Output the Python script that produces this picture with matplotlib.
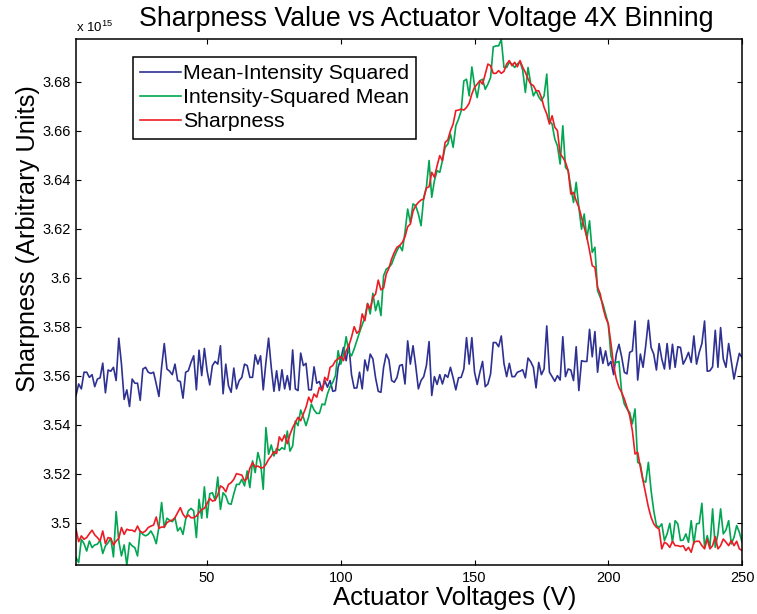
import numpy as np
import matplotlib
matplotlib.use('Agg')
import matplotlib.pyplot as plt

plt.rcParams['font.family'] = ['Liberation Sans', 'DejaVu Sans']
plt.rcParams['mathtext.default'] = 'regular'

# Sharpness readings (x 1e15) for each actuator voltage step, 1..250 V
mean_intensity_sq = [
    3.5519, 3.5566, 3.5546, 3.5614, 3.5614, 3.5593, 3.5604, 3.5555, 3.5586, 3.5591,
    3.5651, 3.5530, 3.5623, 3.5618, 3.5634, 3.5580, 3.5753, 3.5647, 3.5503, 3.5542,
    3.5474, 3.5586, 3.5569, 3.5569, 3.5499, 3.5627, 3.5634, 3.5614, 3.5609, 3.5614,
    3.5566, 3.5515, 3.5634, 3.5731, 3.5627, 3.5618, 3.5604, 3.5647, 3.5580, 3.5576,
    3.5508, 3.5614, 3.5620, 3.5654, 3.5681, 3.5542, 3.5704, 3.5600, 3.5711, 3.5620,
    3.5562, 3.5641, 3.5658, 3.5647, 3.5722, 3.5526, 3.5647, 3.5559, 3.5532, 3.5631,
    3.5546, 3.5580, 3.5593, 3.5647, 3.5641, 3.5593,
    3.5593, 3.5685, 3.5647, 3.5681, 3.5542, 3.5654, 3.5753, 3.5634, 3.5536, 3.5620,
    3.5539, 3.5624, 3.5546, 3.5600, 3.5542, 3.5705, 3.5546, 3.5539, 3.5692, 3.5641,
    3.5650, 3.5542, 3.5542, 3.5636, 3.5569, 3.5576, 3.5539, 3.5580, 3.5553, 3.5580,
    3.5536, 3.5539, 3.5634, 3.5668, 3.5715, 3.5661, 3.5728, 3.5604, 3.5549, 3.5550,
    3.5614, 3.5546, 3.5664, 3.5620, 3.5688, 3.5668, 3.5591, 3.5536, 3.5532, 3.5634,
    3.5688, 3.5664, 3.5580, 3.5573, 3.5593, 3.5641, 3.5645, 3.5566, 3.5742, 3.5647,
    3.5722, 3.5641, 3.5546, 3.5580,
    3.5596, 3.5641, 3.5739, 3.5519, 3.5596, 3.5564, 3.5604, 3.5566, 3.5604, 3.5593,
    3.5634, 3.5591, 3.5542, 3.5591, 3.5593, 3.5627, 3.5755, 3.5647, 3.5755, 3.5614,
    3.5564, 3.5614, 3.5658, 3.5555, 3.5566, 3.5607, 3.5735, 3.5735, 3.5718, 3.5762,
    3.5650, 3.5596, 3.5650, 3.5596, 3.5596, 3.5614, 3.5618, 3.5624, 3.5591, 3.5672,
    3.5657, 3.5634, 3.5550, 3.5654, 3.5604, 3.5627, 3.5803, 3.5614, 3.5596, 3.5577,
    3.5600, 3.5582, 3.5759, 3.5596, 3.5627, 3.5623, 3.5580, 3.5718, 3.5539, 3.5661,
    3.5658, 3.5658, 3.5789,
    3.5677, 3.5780, 3.5614, 3.5715, 3.5650, 3.5701, 3.5641, 3.5658, 3.5604, 3.5688,
    3.5728, 3.5677, 3.5614, 3.5607, 3.5695, 3.5701, 3.5823, 3.5582, 3.5688, 3.5634,
    3.5722, 3.5826, 3.5715, 3.5688, 3.5623, 3.5731, 3.5668, 3.5627, 3.5731, 3.5627,
    3.5728, 3.5634, 3.5718, 3.5715, 3.5647, 3.5668, 3.5695, 3.5654, 3.5762, 3.5647,
    3.5695, 3.5731, 3.5823, 3.5618, 3.5620, 3.5636, 3.5785, 3.5634, 3.5796, 3.5668,
    3.5634, 3.5731, 3.5658, 3.5586, 3.5641, 3.5691, 3.5674,
]

intensity_sq_mean = [
    3.4857, 3.4837, 3.4932, 3.4914, 3.4884, 3.4925, 3.4898, 3.4909, 3.4912, 3.4928,
    3.4874, 3.4905, 3.4918, 3.4936, 3.4860, 3.5045, 3.4925, 3.4864, 3.4909, 3.4827,
    3.4918, 3.4905, 3.4898, 3.4864, 3.4966, 3.4952, 3.4946, 3.4952, 3.4966, 3.4946,
    3.4914, 3.4982, 3.5082, 3.4980, 3.5018, 3.5010, 3.5004, 3.5020, 3.4966, 3.4980,
    3.4952, 3.5014, 3.5048, 3.5058, 3.5048, 3.4939, 3.5095, 3.5018, 3.5146, 3.5020,
    3.5118, 3.5122, 3.5091, 3.5186, 3.5054, 3.5122, 3.5109, 3.5078, 3.5075, 3.5118,
    3.5156, 3.5156, 3.5177, 3.5150, 3.5211, 3.5143, 3.5252, 3.5204, 3.5286, 3.5245,
    3.5136, 3.5388, 3.5279, 3.5317, 3.5272, 3.5303, 3.5295, 3.5306, 3.5299, 3.5374,
    3.5292, 3.5313, 3.5415,
    3.5396, 3.5460, 3.5430, 3.5396, 3.5432, 3.5484, 3.5460, 3.5446, 3.5446, 3.5484,
    3.5481, 3.5525, 3.5555, 3.5573, 3.5600, 3.5702, 3.5647, 3.5688, 3.5759, 3.5695,
    3.5681, 3.5709, 3.5743, 3.5777, 3.5808, 3.5838, 3.5895, 3.5852, 3.5936, 3.5865,
    3.5906, 3.5845, 3.6008, 3.6035, 3.6042, 3.6055, 3.6085, 3.6110,
    3.6131, 3.6110, 3.6185, 3.6280, 3.6225, 3.6301, 3.6294, 3.6260, 3.6212, 3.6328,
    3.6369, 3.6478, 3.6328, 3.6396, 3.6437, 3.6430, 3.6478, 3.6532, 3.6545, 3.6586,
    3.6532, 3.6620, 3.6647, 3.6681, 3.6803, 3.6810, 3.6742, 3.6860, 3.6783, 3.6735,
    3.6804, 3.6810, 3.6769, 3.6790, 3.6817, 3.6942, 3.6946, 3.6946, 3.6973, 3.6858,
    3.6858, 3.6879, 3.6872, 3.6858, 3.6872, 3.6882, 3.6847, 3.6756, 3.6858, 3.6792,
    3.6742, 3.6763, 3.6738, 3.6722, 3.6742, 3.6831, 3.6640,
    3.6627, 3.6566, 3.6538, 3.6464, 3.6620, 3.6450, 3.6437, 3.6369, 3.6307, 3.6389,
    3.6287, 3.6198, 3.6260, 3.6158, 3.6232, 3.6103, 3.6124, 3.5947, 3.5920, 3.5892,
    3.5851, 3.5811,
    3.5681, 3.5647, 3.5654, 3.5658, 3.5532, 3.5484, 3.5464, 3.5450, 3.5403, 3.5464,
    3.5246, 3.5239, 3.5171, 3.5165, 3.5246, 3.5131, 3.5049, 3.4988, 3.4981,
    3.4995, 3.4927, 3.4954, 3.4997, 3.4920, 3.5008, 3.4995, 3.4927, 3.4929, 3.4954,
    3.4920, 3.5008, 3.4913, 3.4995, 3.4997, 3.5079, 3.4899, 3.4947, 3.4899, 3.5056,
    3.4899, 3.4954, 3.5056, 3.4954, 3.4970, 3.5008, 3.4913, 3.4940, 3.4988, 3.4961,
    3.4920,
]

sharpness = [
    3.4973, 3.4922, 3.4946, 3.4932, 3.4939, 3.4955, 3.4969, 3.4950, 3.4939, 3.4925,
    3.4966, 3.4914, 3.4939, 3.4936, 3.4909, 3.4925, 3.4936, 3.4980, 3.4952, 3.4973,
    3.4969, 3.4969, 3.4963, 3.4986, 3.4963, 3.4959, 3.4966, 3.4980, 3.4986, 3.4990,
    3.5023, 3.4977, 3.4982, 3.4982, 3.5000, 3.5007, 3.5010, 3.5020, 3.5041, 3.5061,
    3.5034, 3.5020, 3.5031, 3.5020, 3.5020, 3.5027, 3.5041, 3.5054, 3.5058, 3.5078,
    3.5099, 3.5088, 3.5091, 3.5113, 3.5150, 3.5143, 3.5126, 3.5156, 3.5163, 3.5177,
    3.5200, 3.5197, 3.5194, 3.5170, 3.5181, 3.5222, 3.5245, 3.5227, 3.5231, 3.5224,
    3.5224, 3.5238, 3.5258, 3.5272, 3.5290, 3.5282, 3.5350, 3.5333, 3.5358, 3.5322,
    3.5360, 3.5388, 3.5408,
    3.5430, 3.5416, 3.5444, 3.5471, 3.5512, 3.5491, 3.5525, 3.5512, 3.5552, 3.5539,
    3.5593, 3.5580, 3.5634, 3.5641, 3.5661, 3.5668, 3.5678, 3.5661, 3.5702, 3.5722,
    3.5757, 3.5800, 3.5773, 3.5784, 3.5852, 3.5824, 3.5893, 3.5872, 3.5920, 3.5933,
    3.5990, 3.5950, 3.5958, 3.6015, 3.6039, 3.6076, 3.6103, 3.6124,
    3.6131, 3.6144, 3.6167, 3.6208, 3.6219, 3.6271, 3.6294, 3.6307, 3.6317, 3.6321,
    3.6366, 3.6371, 3.6430, 3.6410, 3.6457, 3.6498, 3.6478, 3.6552, 3.6562, 3.6600,
    3.6627, 3.6682, 3.6684, 3.6688, 3.6684, 3.6695, 3.6712, 3.6750, 3.6777, 3.6790,
    3.6804, 3.6790, 3.6831, 3.6872, 3.6865, 3.6834, 3.6834, 3.6845, 3.6834, 3.6842,
    3.6872, 3.6886, 3.6865, 3.6879, 3.6861, 3.6886, 3.6859, 3.6838, 3.6811, 3.6790,
    3.6784, 3.6763, 3.6763, 3.6736, 3.6695, 3.6668, 3.6627,
    3.6661, 3.6614, 3.6600, 3.6505, 3.6491, 3.6471, 3.6437, 3.6341, 3.6348, 3.6314,
    3.6287, 3.6246, 3.6205, 3.6165, 3.6110, 3.6049, 3.6042, 3.5961, 3.5933, 3.5879,
    3.5838, 3.5811,
    3.5732, 3.5641, 3.5586, 3.5552, 3.5532, 3.5505, 3.5471, 3.5437, 3.5376, 3.5280,
    3.5287, 3.5226, 3.5171, 3.5117, 3.5063, 3.5022, 3.4995, 3.4981, 3.4974,
    3.4893, 3.4920, 3.4913, 3.4899, 3.4924, 3.4906, 3.4906, 3.4902, 3.4906, 3.4886,
    3.4899, 3.4879, 3.4920, 3.4924, 3.4924, 3.4906, 3.4893, 3.4933, 3.4893, 3.4906,
    3.4943, 3.4893, 3.4906, 3.4933, 3.4920, 3.4906, 3.4927, 3.4906, 3.4924, 3.4893,
    3.4886,
]

x_ticks = [50, 100, 150, 200, 250]
y_ticks = [3.50, 3.52, 3.54, 3.56, 3.58, 3.60, 3.62, 3.64, 3.66, 3.68]

fig = plt.figure(figsize=(7.57, 6.14), dpi=100)
ax = fig.add_axes([0.1004, 0.0798, 0.8798, 0.8562])

series = [
    (mean_intensity_sq, '#2e3192', 'Mean-Intensity Squared'),
    (intensity_sq_mean, '#00a651', 'Intensity-Squared Mean'),
    (sharpness, '#ed1c24', 'Sharpness'),
]
for values, color, label in series:
    volts = np.arange(1, len(values) + 1)
    ax.plot(volts, values, color=color, lw=1.2, label=label)

# tight limits like MATLAB's "axis tight"
all_vals = np.concatenate([np.asarray(s[0]) for s in series])
ax.set_xlim(1, 250)
ax.set_ylim(all_vals.min(), all_vals.max())

ax.set_xticks(x_ticks)
ax.set_yticks(y_ticks)
ax.set_xticklabels([f'{t:g}' for t in x_ticks])
ax.set_yticklabels([f'{t:g}' for t in y_ticks])
ax.tick_params(direction='in', length=3.6, width=0.8, top=True, right=True,
               labelsize=10.5, pad=4)
for sp in ax.spines.values():
    sp.set_linewidth(1.1)

fig.text(139 / 757, 1 - 19 / 614, 'Sharpness Value vs Actuator Voltage 4X Binning',
         fontsize=19.3, ha='left', va='center')
fig.text(333 / 757, 1 - 598 / 614, 'Actuator Voltages (V)',
         fontsize=18.5, ha='left', va='center')
fig.text(28 / 757, 1 - 392 / 614, 'Sharpness (Arbitrary Units)',
         fontsize=18.3, rotation=90, ha='center', va='bottom')
fig.text(76 / 757, 1 - 32 / 614, r'x 10$^{15}$', fontsize=9.5, ha='left', va='baseline')

leg = ax.legend(loc='upper left', bbox_to_anchor=(133 / 757, 1 - 57 / 614),
                bbox_transform=fig.transFigure, borderaxespad=0, fontsize=15.3,
                fancybox=False, framealpha=1, edgecolor='black',
                handlelength=1.9, handletextpad=0.1, labelspacing=0.24,
                borderpad=0.34)
leg.get_frame().set_linewidth(1.1)

fig.savefig('out.png', dpi=100)
